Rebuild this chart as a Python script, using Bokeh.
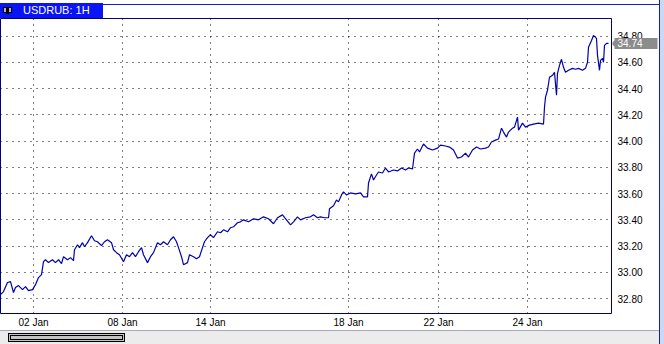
import math
from bokeh.plotting import figure
from bokeh.models import Range1d, FixedTicker, Div
from bokeh.layouts import column, row
from bokeh.core.properties import value
from bokeh.embed import file_html
from bokeh.resources import INLINE

# ---- data (hourly bars, index along the chart) ----
bars = [0, 3, 7, 10, 13, 15, 18, 22, 25, 28, 32, 35, 38, 41, 43, 45, 48, 52, 55, 58,
        61, 63, 67, 70, 73, 74, 77, 79, 82, 84, 87, 91, 94, 97, 101, 104, 107, 111, 113, 116,
        119, 123, 126, 129, 132, 135, 138, 141, 143, 147, 150, 153, 157, 160, 163, 167, 170, 173, 176, 178,
        181, 183, 187, 189, 193, 196, 199, 202, 204, 207, 210, 213, 217, 220, 223, 227, 230, 233, 237, 240,
        243, 248, 253, 258, 263, 268, 273, 277, 282, 286, 290, 293, 297, 300, 305, 310, 313, 317, 320, 324,
        328, 329, 333, 336, 338, 341, 343, 346, 350, 355, 360, 363, 367, 368, 371, 373, 376, 378, 382, 385,
        388, 393, 397, 401, 405, 408, 412, 414, 417, 419, 423, 427, 432, 437, 440, 445, 449, 453, 457, 461,
        465, 468, 472, 476, 480, 485, 488, 491, 495, 498, 501, 503, 506, 508, 512, 514, 517, 518, 522, 525,
        529, 533, 538, 543, 544, 545, 547, 549, 552, 554, 556, 557, 559, 561, 563, 565, 568, 572, 575, 578,
        582, 585, 587, 588, 591, 593, 596, 597, 599, 600, 602, 603, 604, 606, 608]
prices = [32.830, 32.853, 32.922, 32.929, 32.846, 32.884, 32.899, 32.868, 32.891, 32.861,
          32.868, 32.906, 32.960, 32.982, 33.081, 33.096, 33.074, 33.096, 33.074, 33.096,
          33.066, 33.119, 33.096, 33.112, 33.089, 33.172, 33.210, 33.188, 33.226, 33.195,
          33.226, 33.279, 33.241, 33.233, 33.203, 33.233, 33.248, 33.226, 33.172, 33.150,
          33.134, 33.081, 33.134, 33.119, 33.150, 33.119, 33.157, 33.188, 33.134, 33.074,
          33.119, 33.150, 33.226, 33.210, 33.233, 33.210, 33.248, 33.271, 33.233, 33.188,
          33.119, 33.058, 33.074, 33.134, 33.119, 33.104, 33.119, 33.188, 33.233, 33.264,
          33.286, 33.264, 33.309, 33.302, 33.324, 33.309, 33.340, 33.347, 33.378, 33.385,
          33.400, 33.385, 33.408, 33.400, 33.423, 33.408, 33.370, 33.416, 33.438, 33.400,
          33.362, 33.385, 33.423, 33.400, 33.416, 33.423, 33.438, 33.416, 33.423, 33.416,
          33.416, 33.484, 33.507, 33.552, 33.537, 33.590, 33.613, 33.590, 33.605, 33.598,
          33.605, 33.575, 33.575, 33.681, 33.750, 33.704, 33.742, 33.765, 33.757, 33.795,
          33.765, 33.780, 33.773, 33.795, 33.780, 33.795, 33.788, 33.909, 33.940, 33.917,
          33.978, 33.947, 33.932, 33.947, 33.970, 33.963, 33.955, 33.932, 33.871, 33.879,
          33.909, 33.879, 33.932, 33.955, 33.940, 33.947, 33.955, 33.993, 34.008, 34.016,
          34.099, 34.069, 34.031, 34.069, 34.099, 34.107, 34.183, 34.084, 34.137, 34.107,
          34.122, 34.130, 34.137, 34.130, 34.259, 34.335, 34.388, 34.487, 34.502, 34.525,
          34.350, 34.517, 34.578, 34.624, 34.563, 34.525, 34.540, 34.555, 34.548, 34.555,
          34.540, 34.555, 34.601, 34.715, 34.768, 34.806, 34.783, 34.654, 34.540, 34.616,
          34.631, 34.601, 34.730, 34.745, 34.745]
date_ticks = [33, 122, 210, 348, 438, 527]
date_labels = ["02 Jan", "08 Jan", "14 Jan", "18 Jan", "22 Jan", "24 Jan"]
price_ticks = [32.80, 33.00, 33.20, 33.40, 33.60, 33.80, 34.00, 34.20, 34.40, 34.60, 34.80]
price_labels = ["32.80", "33.00", "33.20", "33.40", "33.60", "33.80",
                "34.00", "34.20", "34.40", "34.60", "34.80"]
symbol_title = "USDRUB: 1H"
last_price_text = "34.74"

FONT = "Liberation Sans"
yr = Range1d(32.686, 34.935)

# ---- main chart ----
p = figure(width=612, height=312, output_backend="svg", toolbar_location=None,
           x_range=Range1d(0, 611), y_range=yr, y_axis_location=None, tools="")
p.min_border_left = 0
p.min_border_top = 0
p.min_border_right = 1
p.min_border_bottom = 16
p.background_fill_color = "white"
p.border_fill_color = "white"
p.outline_line_color = "#000080"
p.outline_line_width = 1

p.line(bars, prices, line_color="#0000b0", line_width=1.2)

p.xaxis.ticker = FixedTicker(ticks=date_ticks)
p.xaxis.major_label_overrides = {t: l for t, l in zip(date_ticks, date_labels)}
p.xaxis.axis_line_color = None
p.xaxis.major_tick_line_color = None
p.xaxis.minor_tick_line_color = None
p.xaxis.major_tick_out = 0
p.xaxis.major_tick_in = 0
p.xaxis.minor_tick_out = 0
p.xaxis.major_label_text_font = FONT
p.xaxis.major_label_text_font_size = "10px"
p.xaxis.major_label_text_color = "#000000"
p.xaxis.major_label_standoff = 3

p.xgrid.ticker = FixedTicker(ticks=date_ticks)
p.ygrid.ticker = FixedTicker(ticks=price_ticks)
for g in (p.xgrid[0], p.ygrid[0]):
    g.grid_line_color = "#000000"
    g.grid_line_dash = "1 5"
    g.grid_line_width = 1

# ---- price scale panel (shares the price range) ----
q = figure(width=47, height=312, output_backend="svg", toolbar_location=None,
           x_range=Range1d(0, 47), y_range=yr, x_axis_location=None,
           y_axis_location=None, tools="")
q.min_border_left = 0
q.min_border_right = 0
q.min_border_top = 0
q.min_border_bottom = 16
q.outline_line_color = None
q.background_fill_color = "white"
q.border_fill_color = "white"
q.grid.visible = False

q.text(x=[5] * len(price_ticks), y=price_ticks, text=price_labels,
       text_font=value(FONT), text_font_size="10px", text_color="#000000",
       text_baseline="middle", text_align="left")

# current price tag
last = prices[-1]
q.rect(x=[23.5], y=[last], width=43, height=11, width_units="screen", height_units="screen",
       fill_color="#8c8c8c", line_color=None)
q.scatter(x=[2.5], y=[last], marker="triangle", size=9, angle=math.pi / 2,
          fill_color="#8c8c8c", line_color=None)
q.text(x=[5], y=[last], text=[last_price_text], text_font=value(FONT), text_font_size="10px",
       text_color="#ffffff", text_baseline="middle", text_align="left")

# ---- window chrome ----
header_html = (
    '<div style="position:relative;width:659px;height:18px;background:#ffffff;overflow:hidden;">'
    '<div style="position:absolute;left:103px;top:4px;width:556px;height:1px;background:#1020d0;"></div>'
    '<div style="position:absolute;left:0px;top:3px;width:103px;height:15px;background:#0a14f5;"></div>'
    '<div style="position:absolute;left:3px;top:7px;width:9px;height:6px;background:#b8b8b8;border:1px solid #000;"></div>'
    '<div style="position:absolute;left:6px;top:8px;width:3px;height:6px;background:#000;"></div>'
    '<div style="position:absolute;left:23px;top:3px;height:15px;line-height:15px;color:#ffffff;'
    'font-family:\'Liberation Sans\';font-size:11px;white-space:nowrap;">' + symbol_title + '</div>'
    '</div>'
)
header = Div(text=header_html, width=659, height=18, margin=0)

scroll_html = (
    '<div style="position:relative;width:659px;height:14px;background:#ececec;border-top:1px solid #a8a8b8;box-sizing:border-box;overflow:hidden;">'
    '<div style="position:absolute;left:8px;top:2px;width:117px;height:9px;background:#c4c4c4;'
    'border:3px double #000;box-sizing:border-box;"></div>'
    '</div>'
)
scroll = Div(text=scroll_html, width=659, height=14, margin=0)

strip_html = ('<div style="width:5px;height:344px;background:#c9d9f4;border-left:1px solid #1020c0;'
              'box-sizing:border-box;"></div>')
strip = Div(text=strip_html, width=5, height=344, margin=0)

layout = row(column(header, row(p, q, spacing=0), scroll, spacing=0), strip, spacing=0)

open("out.html", "w").write(file_html(layout, INLINE))
